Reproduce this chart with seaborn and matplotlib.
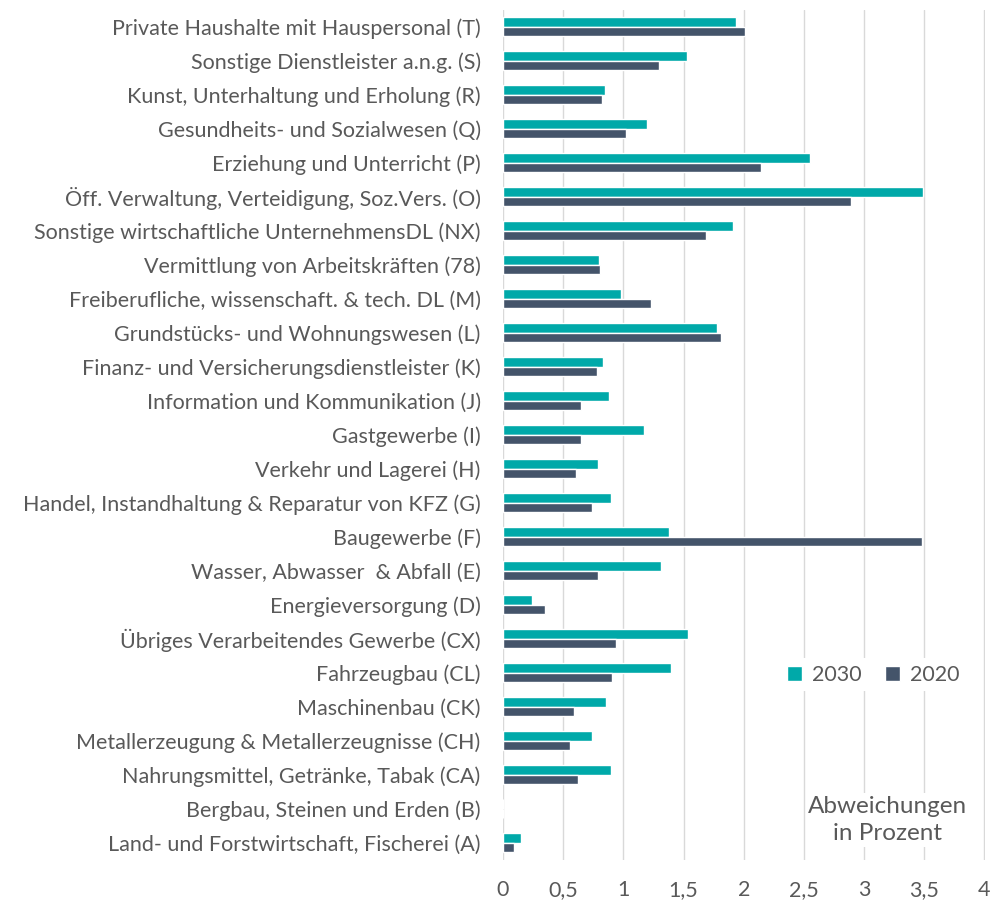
import pandas as pd
import matplotlib.pyplot as plt
import seaborn as sns

# Branchen von oben nach unten
branchen = [
    'Private Haushalte mit Hauspersonal (T)',
    'Sonstige Dienstleister a.n.g. (S)',
    'Kunst, Unterhaltung und Erholung (R)',
    'Gesundheits- und Sozialwesen (Q)',
    'Erziehung und Unterricht (P)',
    'Öff. Verwaltung, Verteidigung, Soz.Vers. (O)',
    'Sonstige wirtschaftliche UnternehmensDL (NX)',
    'Vermittlung von Arbeitskräften (78)',
    'Freiberufliche, wissenschaft. & tech. DL (M)',
    'Grundstücks- und Wohnungswesen (L)',
    'Finanz- und Versicherungsdienstleister (K)',
    'Information und Kommunikation (J)',
    'Gastgewerbe (I)',
    'Verkehr und Lagerei (H)',
    'Handel, Instandhaltung & Reparatur von KFZ (G)',
    'Baugewerbe (F)',
    'Wasser, Abwasser  & Abfall (E)',
    'Energieversorgung (D)',
    'Übriges Verarbeitendes Gewerbe (CX)',
    'Fahrzeugbau (CL)',
    'Maschinenbau (CK)',
    'Metallerzeugung & Metallerzeugnisse (CH)',
    'Nahrungsmittel, Getränke, Tabak (CA)',
    'Bergbau, Steinen und Erden (B)',
    'Land- und Forstwirtschaft, Fischerei (A)',
]

werte_2030 = [1.94, 1.53, 0.85, 1.20, 2.55, 3.49, 1.91, 0.80, 0.98, 1.78, 0.83,
              0.88, 1.17, 0.79, 0.90, 1.38, 1.31, 0.24, 1.54, 1.40, 0.86, 0.74,
              0.90, 0.0, 0.15]
werte_2020 = [2.01, 1.30, 0.82, 1.02, 2.14, 2.89, 1.69, 0.81, 1.23, 1.81, 0.78,
              0.65, 0.65, 0.61, 0.74, 3.48, 0.79, 0.35, 0.94, 0.91, 0.59, 0.56,
              0.62, 0.0, 0.09]

jahre = ['2030', '2020']
farben = ['#00A9A9', '#44546A']
xticks = [0, 0.5, 1, 1.5, 2, 2.5, 3, 3.5, 4]
xlabels = ['0', '0,5', '1', '1,5', '2', '2,5', '3', '3,5', '4']

n = len(branchen)
df = pd.DataFrame({
    'Branche': branchen * 2,
    'Wert': werte_2030 + werte_2020,
    'Jahr': [jahre[0]] * n + [jahre[1]] * n,
})

sns.set_style('white')
plt.rcParams['font.family'] = ['Lato', 'DejaVu Sans']
textfarbe = '#595959'
schrift = 15.5

fig = plt.figure(figsize=(9.92, 9.02), dpi=100)
ax = fig.add_axes([0.507, 0.047, 0.486, 0.942])

sns.barplot(data=df, x='Wert', y='Branche', hue='Jahr', hue_order=jahre,
            palette=farben, width=0.56, gap=0, saturation=1,
            errorbar=None, ax=ax)

ax.set_xlim(0, 4.005)
ax.set_xticks(xticks)
ax.set_xticklabels(xlabels)
ax.set_xlabel('')
ax.set_ylabel('')
ax.xaxis.grid(True, color='#D9D9D9', linewidth=1)
ax.yaxis.grid(False)
ax.set_axisbelow(True)
for s in ax.spines.values():
    s.set_visible(False)
ax.tick_params(axis='both', length=0, labelsize=schrift, labelcolor=textfarbe)
ax.tick_params(axis='x', pad=15)
ax.tick_params(axis='y', pad=16)

leg = ax.legend(loc='center', bbox_to_anchor=(0.88, 0.252),
                bbox_transform=fig.transFigure, ncol=2, frameon=True,
                fontsize=schrift, handlelength=0.7, handleheight=0.7,
                handletextpad=0.45, columnspacing=1.1, borderpad=0.3)
leg.get_frame().set_facecolor('white')
leg.get_frame().set_edgecolor('none')
leg.get_frame().set_alpha(1)
for t in leg.get_texts():
    t.set_color(textfarbe)

fig.text(0.895, 0.091, 'Abweichungen\nin Prozent', ha='center', va='center',
         multialignment='center', fontsize=17.5, color=textfarbe, linespacing=1.35,
         bbox=dict(facecolor='white', edgecolor='none', pad=2))

fig.savefig('out.png', dpi=100)
